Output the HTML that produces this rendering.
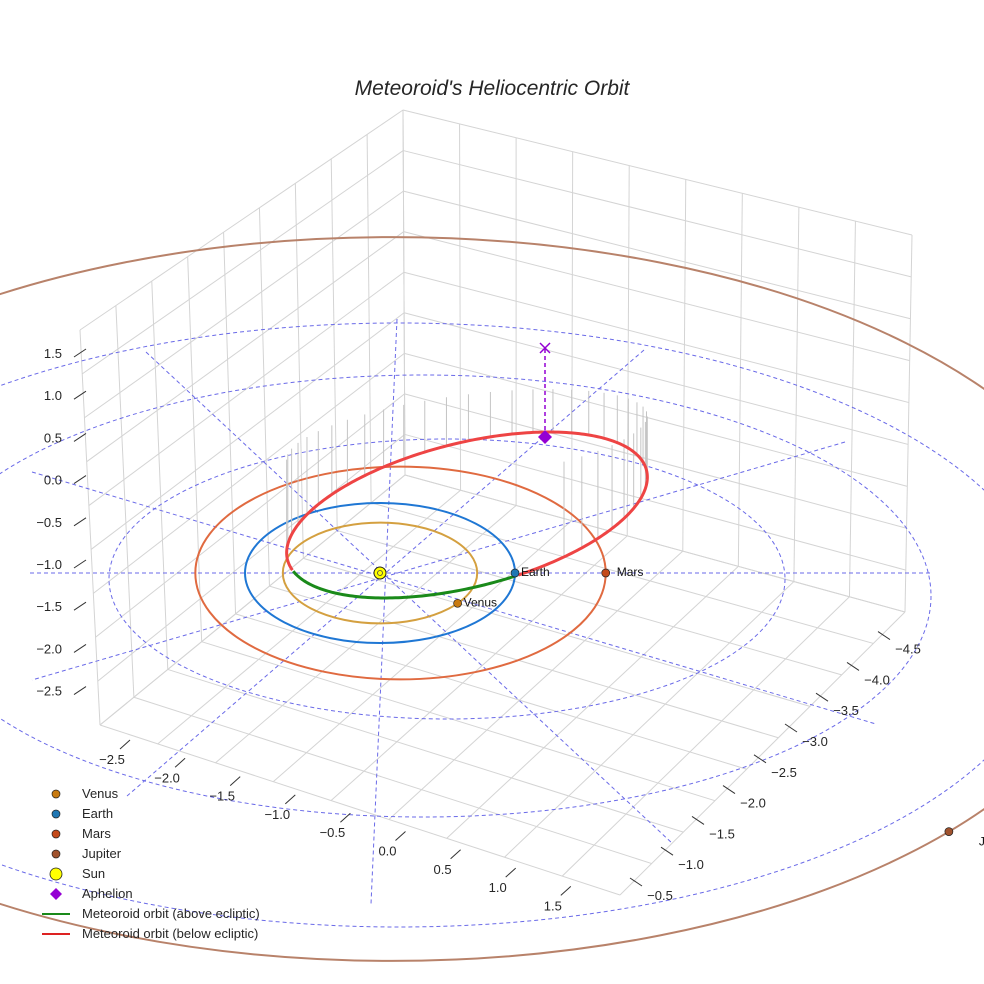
<!DOCTYPE html>
<html><head><meta charset="utf-8">
<style>
html,body{margin:0;padding:0;background:#fff;}
svg{display:block;font-family:"Liberation Sans",sans-serif;}
</style></head>
<body>
<svg id="chart" width="984" height="984" viewBox="0 0 984 984" xmlns="http://www.w3.org/2000/svg">
<rect width="984" height="984" fill="#fff"/>
<text x="492" y="95" text-anchor="middle" font-size="21" font-style="italic" fill="#262626">Meteoroid's Heliocentric Orbit</text>
<g id="grid"></g>
<g id="refs"></g>
<g id="orbits"></g>
<g id="ticks"></g>
<g id="legend"></g>
</svg>
<script>
// ---- data ----
const planetNames = ["Venus","Earth","Mars","Jupiter"];
const planetRadiusAU = [0.72, 1.0, 1.52, 5.2];
const planetAngleDeg = [-37, 0, 0, -40];
const planetColors = ["#d4a040","#1f77d4","#e06a40","#b8826a"];
const planetDotColors = ["#c87a10","#1f77b4","#c44a1a","#a0522d"];
const zTicks = ["1.5","1.0","0.5","0.0","\u22120.5","\u22121.0","\u22121.5","\u22122.0","\u22122.5"];
const xTicks = ["\u22122.5","\u22122.0","\u22121.5","\u22121.0","\u22120.5","0.0","0.5","1.0","1.5"];
const yTicks = ["\u22120.5","\u22121.0","\u22121.5","\u22122.0","\u22122.5","\u22123.0","\u22123.5","\u22124.0","\u22124.5"];
const refRadiiAU = [2, 3, 4];
const meteorPerihelionAU = 1.0;
const meteorAphelionAU = 2.3;

const NS="http://www.w3.org/2000/svg";
const sun=[380,573], kx=135, ky=70;
function el(tag,attrs,parent){const e=document.createElementNS(NS,tag);for(const k in attrs)e.setAttribute(k,attrs[k]);(parent||document.getElementById('chart')).appendChild(e);return e;}

// grid box
const grid=document.getElementById('grid');
const TB=[403,110], TL=[80,330], TR=[912,235], BL=[100,725], BB=[405,475], BR=[905,612], BF=[620,895];
function lerp(a,b,t){return [a[0]+(b[0]-a[0])*t,a[1]+(b[1]-a[1])*t];}
function gl(p,q){const l=el('line',{x1:p[0],y1:p[1],x2:q[0],y2:q[1],stroke:'#d4d4d4','stroke-width':1},grid);
}
for(let i=0;i<=9;i++){const t=i/9;
 gl(lerp(TL,TB,t),lerp(BL,BB,t)); gl(lerp(TB,TR,t),lerp(BB,BR,t));
 gl(lerp(TL,BL,t),lerp(TB,BB,t)); gl(lerp(TB,BB,t),lerp(TR,BR,t));
 gl(lerp(BL,BF,t),lerp(BB,BR,t)); gl(lerp(BB,BL,t),lerp(BR,BF,t));}
// ticks
const tk=document.getElementById('ticks');
zTicks.forEach((s,i)=>{const y=353+i*42.2;const t=el('text',{x:62,y:y+5,'text-anchor':'end','font-size':13,fill:'#262626'},tk);t.textContent=s;
 
 el('line',{x1:74,y1:y+4,x2:86,y2:y-4,stroke:'#333'},tk);});
xTicks.forEach((s,i)=>{const x=112+i*55.1, y=764+i*18.3;const t=el('text',{x:x,y:y,'text-anchor':'middle','font-size':13,fill:'#262626'},tk);t.textContent=s;
 
 el('line',{x1:x+8,y1:y-15,x2:x+18,y2:y-24,stroke:'#333'},tk);});
yTicks.forEach((s,i)=>{const x=660+i*31, y=900-i*30.8;const t=el('text',{x:x,y:y,'text-anchor':'middle','font-size':13,fill:'#262626'},tk);t.textContent=s;
 
 el('line',{x1:x-30,y1:y-22,x2:x-18,y2:y-14,stroke:'#333'},tk);});

// reference dashed circles and radial lines
const refs=document.getElementById('refs');
function refGeom(r){ // perspective-ish projection of a circle of radius r AU on ecliptic
 return {cx:495-24*r, cy:545+r*17 + (r>3?(r-3)*12:0), rx:338+(r-2)*170-(r>3?(r-3)*24:0), ry:81*r-22};}
refRadiiAU.forEach(r=>{const g=refGeom(r);const e=el('ellipse',{cx:g.cx,cy:g.cy,rx:g.rx,ry:g.ry,fill:'none',stroke:'#6a6ae8','stroke-width':1,'stroke-dasharray':'4 3'},refs);
 });
[[30,573,930,573],[146,352,673,844],[644,350,127,796],[845,442,32,680],[397,319,371,904],[32,472,876,724]].forEach(l=>{
 const e=el('line',{x1:l[0],y1:l[1],x2:l[2],y2:l[3],stroke:'#6a6ae8','stroke-width':1,'stroke-dasharray':'4 3'},refs);
 });

// planet orbits
const orb=document.getElementById('orbits');
function orbitGeom(r){
 if(r>5) return {cx:392,cy:599,rx:r*139.8,ry:r*69.6};
 return {cx:sun[0]+(r>1.2?0.1*r*kx:0),cy:sun[1],rx:r*kx,ry:r*ky};}
planetNames.forEach((n,i)=>{const g=orbitGeom(planetRadiusAU[i]);
 const e=el('ellipse',{cx:g.cx,cy:g.cy,rx:g.rx,ry:g.ry,fill:'none',stroke:planetColors[i],'stroke-width':2},orb);
 });
// meteoroid orbit
const mcx=467,mcy=515,mrx=185*(meteorAphelionAU+meteorPerihelionAU)/3.3,mry=72,rot=-14*Math.PI/180;
const pts=[];
for(let k=0;k<360;k++){const t=k*Math.PI/180;
 const x=mcx+mrx*Math.cos(t)*Math.cos(rot)-mry*Math.sin(t)*Math.sin(rot);
 const y=mcy+mrx*Math.cos(t)*Math.sin(rot)+mry*Math.sin(t)*Math.cos(rot);
 pts.push({x,y,g:(y>571&&x<516)});}
let start=pts.findIndex((p,i)=>p.g&&!pts[(i+1)%360].g);
const ordered=[];for(let i=1;i<=360;i++)ordered.push(pts[(start+i)%360]);
const red=ordered.filter(p=>!p.g), green=ordered.filter(p=>p.g);
red.forEach((p,i)=>{if(i%7===0&&p.y<560){const e=el('line',{x1:p.x,y1:p.y,x2:p.x,y2:p.y-(p.y-330)*0.42,stroke:'#c4c4c4','stroke-width':1},orb);
 }});
const rp=el('polyline',{points:red.map(p=>p.x+','+p.y).join(' '),fill:'none',stroke:'#ee4444','stroke-width':3},orb);

const gp=el('polyline',{points:green.map(p=>p.x+','+p.y).join(' '),fill:'none',stroke:'#1a8a1a','stroke-width':3},orb);

// aphelion
const ap=[545,437];
el('line',{x1:ap[0],y1:ap[1],x2:ap[0],y2:348,stroke:'#9400d3','stroke-width':1.5,'stroke-dasharray':'4 3'},orb);
const ax=el('path',{d:`M${ap[0]-5},343 L${ap[0]+5},353 M${ap[0]+5},343 L${ap[0]-5},353`,stroke:'#9400d3','stroke-width':1.5},orb);

const ad=el('path',{d:`M${ap[0]},${ap[1]-7} L${ap[0]+7},${ap[1]} L${ap[0]},${ap[1]+7} L${ap[0]-7},${ap[1]} Z`,fill:'#9400d3'},orb);

// planets
planetNames.forEach((n,i)=>{const r=planetRadiusAU[i],a=planetAngleDeg[i]*Math.PI/180,g=orbitGeom(r);
 const x=g.cx+g.rx*Math.cos(a), y=g.cy-g.ry*Math.sin(a);
 const c=el('circle',{cx:x,cy:y,r:4,fill:planetDotColors[i],stroke:'#222','stroke-width':0.7},orb);
 
 const t=el('text',{x:x+(r>5?30:(r>1.2?11:6)),y:y+(r>5?14:3),'font-size':12,fill:'#111'},orb);t.textContent=r>5?'J':n;
 });
const sn=el('circle',{cx:sun[0],cy:sun[1],r:6,fill:'#ffff00',stroke:'#222','stroke-width':1},orb);

el('circle',{cx:sun[0],cy:sun[1],r:2.5,fill:'none',stroke:'#444','stroke-width':0.8},orb);

// legend
const lg=document.getElementById('legend');
const legendLabels=["Venus","Earth","Mars","Jupiter","Sun","Aphelion","Meteoroid orbit (above ecliptic)","Meteoroid orbit (below ecliptic)"];
legendLabels.forEach((s,i)=>{const y=794+i*20;const g=el('g',{},lg);
 
 if(i<4) el('circle',{cx:56,cy:y,r:4,fill:planetDotColors[i],stroke:'#222','stroke-width':0.7},g);
 else if(i===4) el('circle',{cx:56,cy:y,r:6,fill:'#ffff00',stroke:'#222','stroke-width':0.8},g);
 else if(i===5) el('path',{d:`M56,${y-6} L62,${y} L56,${y+6} L50,${y} Z`,fill:'#9400d3'},g);
 else el('line',{x1:42,y1:y,x2:70,y2:y,stroke:i===6?'#1a8a1a':'#dd2222','stroke-width':2},g);
 const t=el('text',{x:82,y:y+4,'font-size':13,fill:'#262626'},g);t.textContent=s;});
</script>
</body></html>
